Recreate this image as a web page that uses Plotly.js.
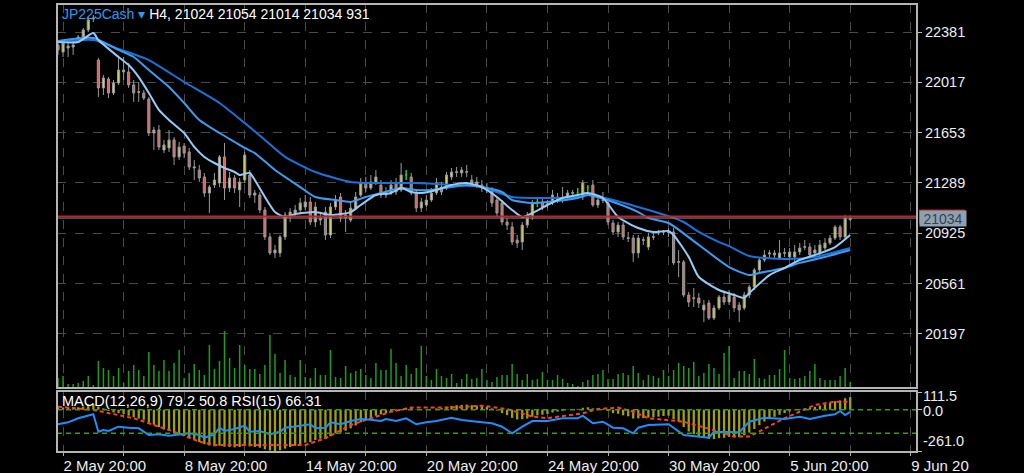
<!DOCTYPE html>
<html><head><meta charset="utf-8">
<script src="https://cdn.plot.ly/plotly-3.0.1.min.js"></script>
<style>html,body{margin:0;padding:0;background:#000;}#chart{width:1024px;height:473px;}</style>
</head><body><div id="chart"></div>
<script>
const symbol = 'JP225Cash';
const timeframe = 'H4';

const openP = [22287,22236,22265,22272,22323,22345,22396,22475,22178,21976,
22041,21940,22012,22106,22092,21998,21950,21940,21896,21650,
21672,21527,21542,21600,21477,21556,21513,21397,21382,21332,
21216,21274,21288,21477,21252,21325,21238,21310,21346,21201,
21201,21093,20898,20782,20782,20898,21042,21071,21093,21115,
21151,21006,21020,21078,20912,21115,21187,21035,21020,21107,
21201,21288,21252,21288,21274,21201,21216,21288,21238,21346,
21332,21216,21107,21129,21165,21216,21259,21252,21332,21370,
21361,21366,21310,21274,21274,21252,21238,21165,21144,21006,
20970,20876,20861,20984,21042,21151,21151,21129,21144,21187,
21182,21187,21214,21216,21187,21255,21274,21129,21168,21144,
20999,20934,20984,20892,20890,20782,20878,20825,20900,20936,
20932,20934,20934,20715,20717,20478,20458,20456,20369,20420,
20311,20384,20463,20427,20463,20405,20384,20478,20536,20659,
20731,20774,20782,20746,20780,20753,20753,20789,20823,20825,
20782,20782,20818,20854,20890,20970,20898,21024];
const highP = [22323,22316,22301,22316,22359,22410,22490,22504,22193,22070,
22055,22034,22193,22200,22157,22034,22019,21961,21911,21694,
21708,21600,21672,21621,21585,21578,21542,21455,21419,21361,
21274,21361,21491,21578,21368,21346,21325,21513,21382,21238,
21223,21115,20927,20840,20912,21078,21107,21129,21180,21201,
21187,21151,21078,21115,21144,21201,21216,21093,21144,21223,
21325,21332,21346,21382,21310,21259,21310,21325,21433,21382,
21361,21238,21180,21201,21252,21325,21296,21368,21397,21404,
21404,21419,21346,21332,21310,21288,21259,21187,21165,21035,
21006,20912,21006,21078,21165,21180,21187,21165,21238,21216,
21259,21238,21238,21252,21310,21274,21310,21187,21223,21165,
21020,21006,21006,20934,20912,20912,20898,20927,20934,20948,
20948,20963,20963,20803,20731,20500,20529,20492,20442,20442,
20405,20478,20492,20514,20492,20427,20500,20550,20673,20753,
20803,20803,20803,20876,20818,20818,20840,20854,20876,20854,
20840,20876,20890,20912,20984,20984,21057,21054];
const lowP = [22215,22200,22200,22215,22301,22323,22381,22453,21911,21925,
21903,21925,21998,22034,21976,21875,21875,21889,21628,21527,
21527,21505,21513,21419,21455,21469,21382,21310,21296,21187,
21071,21252,21259,21165,21223,21216,21115,21288,21180,21144,
21071,20876,20767,20746,20753,20876,21006,21042,21071,21093,
20984,20970,20984,20876,20890,21093,21006,20934,21006,21093,
21187,21223,21238,21274,21180,21180,21201,21201,21223,21310,
21201,21078,21078,21115,21151,21201,21201,21238,21310,21332,
21332,21332,21259,21252,21223,21216,21115,21042,20984,20948,
20840,20818,20803,20963,21020,21115,21093,21107,21129,21144,
21144,21165,21187,21187,21165,21223,21115,21107,21144,20984,
20912,20898,20876,20861,20717,20746,20840,20803,20876,20912,
20912,20898,20695,20608,20463,20391,20391,20384,20282,20297,
20297,20369,20405,20405,20355,20282,20369,20456,20514,20644,
20717,20746,20746,20731,20753,20731,20717,20767,20803,20746,
20767,20767,20803,20840,20876,20876,20876,21014];
const closeP = [22251,22301,22280,22287,22345,22396,22468,22482,21976,22048,
21940,22012,22106,22092,21998,21940,21945,21903,21650,21672,
21549,21563,21600,21477,21549,21505,21404,21404,21325,21216,
21259,21310,21477,21252,21325,21252,21296,21491,21201,21216,
21093,20898,20782,20803,20898,21057,21078,21093,21144,21151,
21006,21115,21035,20912,21115,21165,21035,21057,21107,21187,
21288,21252,21296,21332,21201,21216,21274,21223,21346,21346,
21216,21107,21151,21165,21216,21288,21223,21346,21368,21365,
21382,21370,21288,21296,21252,21238,21144,21071,21006,20984,
20861,20854,20984,21042,21144,21151,21115,21136,21201,21165,
21178,21216,21218,21216,21288,21255,21129,21165,21162,21006,
20934,20984,20898,20888,20782,20890,20874,20898,20896,20932,
20936,20930,20710,20719,20478,20427,20454,20420,20405,20311,
20384,20463,20427,20478,20384,20369,20478,20536,20659,20731,
20767,20782,20767,20782,20784,20789,20789,20818,20827,20767,
20803,20840,20854,20890,20970,20898,21035,21034];
const volume = [1550,1860,620,620,775,1085,1860,465,4185,3100,
2790,1860,3100,775,2635,3565,2790,1860,5580,3565,
2635,4340,2635,3875,5890,1550,2325,3720,2790,2015,
6665,2945,4185,8835,4650,3100,6665,3565,2945,2945,
2170,3565,8215,5270,2325,4340,2015,1705,4340,1705,
1550,3100,2015,2015,5890,1705,1550,3410,2325,2635,
2945,2015,1550,3875,2790,2790,6045,3875,1860,3565,
2170,3100,6510,1860,1240,2945,1860,1550,2170,775,
1395,2170,1395,1550,2945,1240,930,1705,2015,2015,
3720,2170,1240,2170,1240,1395,2480,1240,1240,2015,
1395,775,620,310,930,1240,2015,2170,2790,1395,
1395,2170,2325,2015,3410,2325,1240,2015,1860,1550,
2790,1860,2790,3875,3410,3100,4030,1860,2325,3720,
3100,2170,5425,6510,1550,2635,2635,2170,4495,1550,
1395,2015,2015,2945,5890,1550,1395,1550,1860,2635,
3720,1550,1240,1240,1240,1860,3100,931];

const maFastX = [0,4,7,8,12,14,16,18,20,22,25,27,29,31,33,35,36,38,39,41,43,45,47,51,54,58,60,63,66,68,70,72,75,78,81,84,87,90,92,94,97,100,103,105,108,111,115,118,121,122,125,127,131,134,136,137,141,144,147,150,154,157];
const maFast = [22309,22309,22374,22323,22200,22142,22055,21940,21817,21744,21650,21549,21477,21433,21397,21368,21346,21361,21310,21187,21078,21042,21064,21078,21057,21078,21129,21201,21216,21252,21223,21216,21238,21274,21288,21259,21187,21093,21042,21071,21129,21180,21201,21216,21180,21042,20963,20934,20941,20912,20753,20608,20514,20478,20456,20492,20622,20673,20731,20767,20825,20912];
const maMidX = [0,7,12,15,18,22,25,28,32,35,37,39,43,48,51,55,58,61,64,68,71,74,78,81,84,88,90,94,97,103,105,110,115,117,121,127,133,137,139,144,147,152,157];
const maMid = [22316,22338,22251,22200,22106,21983,21867,21744,21650,21585,21542,21505,21382,21259,21187,21165,21151,21187,21216,21252,21238,21238,21259,21274,21259,21223,21165,21144,21151,21180,21201,21151,21078,21035,20999,20840,20680,20622,20637,20673,20710,20753,20803];
const maSlowX = [0,7,12,18,25,32,37,41,45,51,58,64,71,78,84,90,97,103,105,110,117,121,124,127,131,133,137,144,150,157];
const maSlow = [22309,22323,22258,22178,22019,21867,21722,21600,21477,21368,21296,21288,21288,21274,21259,21187,21180,21187,21201,21165,21093,21049,21006,20934,20861,20832,20760,20738,20753,20818];

const macdMain = [15,14,13,13,15,20,28,36,20,8,
-8,-18,-22,-28,-38,-48,-56,-64,-82,-95,
-110,-125,-134,-150,-158,-166,-178,-190,-205,-218,
-226,-232,-228,-234,-236,-238,-236,-228,-232,-235,
-240,-250,-258,-261,-256,-246,-236,-228,-218,-208,
-205,-192,-183,-185,-168,-150,-145,-133,-118,-100,
-80,-66,-52,-38,-30,-22,-12,-8,4,12,
10,2,-2,-3,0,8,10,18,24,28,
30,32,28,26,22,18,8,-6,-22,-35,
-52,-62,-60,-56,-45,-36,-32,-27,-18,-12,
-7,-2,2,5,12,15,8,6,5,-8,
-22,-26,-36,-42,-56,-55,-54,-50,-48,-44,
-40,-38,-60,-75,-110,-138,-155,-168,-172,-185,
-186,-180,-178,-172,-175,-174,-162,-145,-122,-98,
-75,-58,-45,-32,-22,-12,-4,4,10,12,
18,26,34,42,54,58,72,79.2];
const signalX = [0,7,15,23,28,31,49,53,58,62,66,70,78,84,89,94,97,104,107,111,114,117,124,131,134,137,140,144,147,150,154,157];
const signalVals = [19,-2,-54,-139,-202,-223,-223,-181,-97,-54,-13,13,13,25,4,-44,-54,-23,4,13,-13,-54,-76,-139,-170,-170,-118,-54,-13,30,50,50.8];
const rsiX = [0,2,4,7,8,9,10,12,14,16,18,20,22,24,26,28,29,31,32,33,35,37,38,40,42,44,45,48,50,51,53,54,56,58,60,62,64,65,67,69,71,73,75,78,80,84,86,88,90,92,94,97,100,103,104,106,108,110,112,114,115,117,121,124,127,129,130,133,135,137,140,144,147,149,152,154,155,156,157];
const rsiVals = [45.3,48.6,55.4,62.2,32.7,35.6,33.9,41.2,39.5,38.4,27.1,28.3,25.9,28.3,30.0,27.1,22.5,28.3,39.5,33.9,37.3,42.9,32.7,33.9,28.3,32.7,39.5,42.9,45.3,38.4,39.5,48.6,45.3,50.8,54.2,53.1,50.8,54.2,50.8,55.4,45.3,48.6,50.8,56.4,52.5,48.6,47.0,41.2,30.0,41.2,50.8,50.8,55.4,55.4,59.8,47.0,49.7,39.5,38.4,30.0,39.5,44.1,45.3,27.1,24.2,22.5,32.7,32.7,31.7,49.7,56.4,54.2,58.1,54.2,59.8,62.2,67.8,61.0,66.31];
const rsiLevels = [70, 30];

const priceTicks = [20197,20561,20925,21289,21653,22017,22381];
const macdTicks = [111.5, 0.0, -261.0];
const timeTickIdx = [1,25,49,73,97,121,145,169];
const timeTickText = ['2 May 20:00','8 May 20:00','14 May 20:00','20 May 20:00','24 May 20:00','30 May 20:00','5 Jun 20:00','9 Jun 20'];
const gridIdx = [1,13,25,37,49,61,73,85,97,109,121,133,145,157,169];
const askPrice = 21046;

const N = closeP.length;
const last = N - 1;
const FONT = 'Liberation Sans, Arial, sans-serif';

const norm = [], doji = [];
for (let i = 0; i < N; i++) (openP[i] === closeP[i] ? doji : norm).push(i);
const pick = (arr, ids) => ids.map(i => arr[i]);

const traces = [];
traces.push({type:'bar', x:[...Array(N).keys()], y:volume, yaxis:'y3', xaxis:'x',
  marker:{color:'#1d9c1d', line:{width:0}}, width:0.3, hoverinfo:'skip'});
traces.push({type:'candlestick', x:norm, open:pick(openP,norm), high:pick(highP,norm), low:pick(lowP,norm), close:pick(closeP,norm),
  increasing:{line:{color:'#9a9a9a', width:1}, fillcolor:'#d2d15a'},
  decreasing:{line:{color:'#9a9a9a', width:1}, fillcolor:'#e06161'},
  whiskerwidth:0, hoverinfo:'skip', xaxis:'x', yaxis:'y'});
traces.push({type:'candlestick', x:doji, open:pick(openP,doji), high:pick(highP,doji), low:pick(lowP,doji), close:pick(closeP,doji),
  increasing:{line:{color:'#22cc22', width:1.5}, fillcolor:'#22cc22'},
  decreasing:{line:{color:'#22cc22', width:1.5}, fillcolor:'#22cc22'},
  whiskerwidth:0, hoverinfo:'skip', xaxis:'x', yaxis:'y'});
traces.push({type:'scatter', mode:'lines', x:maSlowX, y:maSlow, line:{color:'#1a72dc', width:2, shape:'spline', smoothing:0.6}, hoverinfo:'skip'});
traces.push({type:'scatter', mode:'lines', x:maMidX, y:maMid, line:{color:'#3d9cf2', width:2, shape:'spline', smoothing:0.6}, hoverinfo:'skip'});
traces.push({type:'scatter', mode:'lines', x:maFastX, y:maFast, line:{color:'#93cdf6', width:2, shape:'spline', smoothing:0.6}, hoverinfo:'skip'});
traces.push({type:'bar', x:[...Array(N).keys()], y:macdMain, xaxis:'x', yaxis:'y2',
  marker:{color:'#a3a300', line:{width:0}}, width:0.45, hoverinfo:'skip'});
traces.push({type:'scatter', mode:'lines', x:signalX, y:signalVals, xaxis:'x', yaxis:'y2',
  line:{color:'#ff3b2f', width:2, dash:'4px,3px'}, hoverinfo:'skip'});
traces.push({type:'scatter', mode:'lines', x:rsiX, y:rsiVals, xaxis:'x', yaxis:'y4',
  line:{color:'#1e8fff', width:2}, hoverinfo:'skip'});

const mainBottom = 64/448, macdTop = 61/448;
const gridText = gridIdx.map(v => { const k = timeTickIdx.indexOf(v); return k >= 0 ? timeTickText[k] : ''; });
const pxX = 1/860;

const layout = {
  width:1024, height:473, paper_bgcolor:'#000', plot_bgcolor:'#000',
  margin:{l:57, r:107, t:4, b:21}, showlegend:false, hovermode:false,
  barmode:'overlay', boxgap:0.4,
  font:{family:FONT, color:'#ffffff', size:14},
  xaxis:{domain:[0,1], range:[-0.2,170.24], anchor:'y2', tickvals:gridIdx, ticktext:gridText,
    showgrid:true, gridcolor:'#4a4a4a', griddash:'dash', gridwidth:1, zeroline:false, showline:false,
    ticks:'outside', ticklen:3, tickcolor:'#aaaaaa', ticklabelposition:'outside right',
    tickfont:{family:FONT, size:15, color:'#eeeeee'}, rangeslider:{visible:false}, fixedrange:true},
  yaxis:{domain:[mainBottom,1], range:[19804.8,22583.6], side:'right', anchor:'x', tickvals:priceTicks,
    ticktext:priceTicks.map(String), ticks:'outside', ticklen:4, tickcolor:'#bbbbbb',
    tickfont:{family:FONT, size:14.5, color:'#eeeeee'}, showgrid:true, gridcolor:'#4a4a4a', griddash:'dash',
    zeroline:false, showline:false, fixedrange:true},
  yaxis2:{domain:[0,macdTop], range:[-267.3,117.8], side:'right', anchor:'x', tickvals:macdTicks,
    ticktext:macdTicks.map(()=>''), ticks:'outside', ticklen:4, tickcolor:'#bbbbbb',
    showgrid:false, zeroline:false, showline:false, fixedrange:true},
  yaxis3:{overlaying:'y', anchor:'x', range:[0,59520], visible:false, fixedrange:true},
  yaxis4:{overlaying:'y2', anchor:'x', range:[-1.7,101.7], visible:false, fixedrange:true},
  shapes:[
    {type:'line', xref:'paper', x0:0, x1:1, yref:'y', y0:askPrice, y1:askPrice, line:{color:'#cc1f1f', width:2}},
    {type:'line', xref:'paper', x0:0, x1:1, yref:'y', y0:closeP[last], y1:closeP[last], line:{color:'#6d7c8a', width:1}},
    {type:'rect', xref:'paper', x0:1+2*pxX, x1:1+48*pxX, yref:'y', y0:askPrice-50, y1:askPrice+50, fillcolor:'#cc1f1f', line:{width:0}},
    ...rsiLevels.map(v => ({type:'line', xref:'paper', x0:0, x1:1, yref:'y4', y0:v, y1:v, line:{color:'#3f9a10', width:1.5, dash:'5px,4px'}})),
    {type:'rect', xref:'paper', yref:'paper', x0:0, x1:1, y0:mainBottom, y1:1, line:{color:'#b5b5b5', width:2}},
    {type:'rect', xref:'paper', yref:'paper', x0:0, x1:1, y0:0, y1:macdTop, line:{color:'#b5b5b5', width:2}}
  ],
  annotations:[
    {xref:'paper', yref:'paper', x:0, y:1, xanchor:'left', yanchor:'top', xshift:3, yshift:0, showarrow:false,
      text:'<span style="color:#2b9cf2">' + symbol + ' \u25BE</span> ' + timeframe + ', ' + openP[last] + ' ' + highP[last] + ' ' + lowP[last] + ' ' + closeP[last] + ' ' + volume[last],
      font:{family:FONT, size:14, color:'#ffffff'}},
    {xref:'paper', yref:'paper', x:0, y:macdTop, xanchor:'left', yanchor:'top', xshift:3, yshift:0, showarrow:false,
      text:'MACD(12,26,9) ' + macdMain[last].toFixed(1) + ' ' + signalVals[signalVals.length-1].toFixed(1) + ' RSI(15) ' + rsiVals[rsiVals.length-1].toFixed(2),
      font:{family:FONT, size:14.5, color:'#ffffff'}},
    {xref:'paper', yref:'y2', x:1, y:macdTicks[0], xanchor:'left', yanchor:'middle', xshift:4, yshift:-4, showarrow:false, text:macdTicks[0].toFixed(1), font:{family:FONT, size:14.5, color:'#eeeeee'}},
    {xref:'paper', yref:'y2', x:1, y:macdTicks[1], xanchor:'left', yanchor:'middle', xshift:4, yshift:-1, showarrow:false, text:macdTicks[1].toFixed(1), font:{family:FONT, size:14.5, color:'#eeeeee'}},
    {xref:'paper', yref:'y2', x:1, y:macdTicks[2], xanchor:'left', yanchor:'bottom', xshift:4, yshift:0, showarrow:false, text:macdTicks[2].toFixed(1), font:{family:FONT, size:14.5, color:'#eeeeee'}},
    {xref:'paper', yref:'y', x:1, y:closeP[last], xanchor:'left', yanchor:'middle', xshift:2, showarrow:false, text:String(closeP[last]),
      width:46, height:15, align:'center', bgcolor:'#8ea1b3', font:{family:FONT, size:14, color:'#36414c'}, borderpad:0}
  ]
};

Plotly.newPlot('chart', traces, layout, {displayModeBar:false, staticPlot:true});
</script></body></html>
